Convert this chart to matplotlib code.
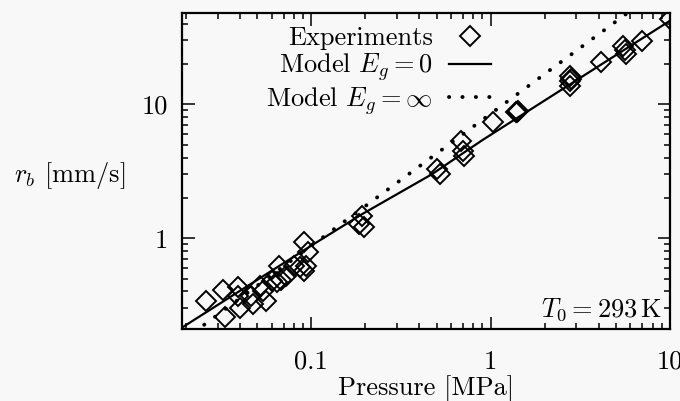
import matplotlib
matplotlib.use('Agg')
import matplotlib.pyplot as plt
from matplotlib.ticker import FixedLocator, FixedFormatter, LogLocator, NullFormatter

plt.rcParams['font.family'] = 'serif'
plt.rcParams['font.serif'] = ['cmr10', 'DejaVu Serif']
plt.rcParams['mathtext.fontset'] = 'cm'
plt.rcParams['axes.unicode_minus'] = False

# experimental burning rates, pressure [MPa] vs r_b [mm/s]
p_exp = [0.026, 0.032, 0.033, 0.039, 0.039, 0.040, 0.046, 0.047, 0.052, 0.054,
         0.056, 0.060, 0.066, 0.064, 0.068, 0.072, 0.080, 0.086, 0.091, 0.091,
         0.096, 0.094, 0.184, 0.191, 0.198, 0.50, 0.52, 0.68, 0.70, 0.71,
         1.03, 1.38, 1.42, 1.40, 2.78, 2.78, 2.78, 2.80, 4.15, 5.5,
         5.7, 5.6, 7.0, 10.0]
r_exp = [0.34, 0.41, 0.26, 0.43, 0.37, 0.30, 0.37, 0.32, 0.44, 0.40,
         0.34, 0.48, 0.62, 0.47, 0.49, 0.52, 0.62, 0.61, 0.57, 0.93,
         0.79, 0.62, 1.27, 1.46, 1.21, 3.27, 3.0, 5.3, 4.46, 4.09,
         7.34, 8.7, 8.9, 8.8, 14.9, 16.2, 13.6, 15.5, 20.6, 27.1,
         23.6, 25.5, 29.5, 43.0]

# model E_g = 0
p_model0 = [0.019, 0.036, 0.10, 0.19, 0.47, 0.9, 10.0]
r_model0 = [0.215, 0.37, 0.88, 1.5, 3.0, 5.4, 42.0]

# model E_g = infinity
p_modelinf = [0.022, 5.8]
r_modelinf = [0.197, 48.0]

x_ticks = [0.1, 1, 10]
x_labels = ['0.1', '1', '10']
y_ticks = [1, 10]
y_labels = ['1', '10']

bg = '#f8f8f8'
fs = 19

fig = plt.figure(figsize=(6.8, 4.01), dpi=100, facecolor=bg)
ax = fig.add_axes([0.2676, 0.1796, 0.7176, 0.788], facecolor=bg)

ax.plot(p_exp, r_exp, linestyle='none', marker='D', markersize=10,
        markerfacecolor='none', markeredgecolor='black', markeredgewidth=1.4,
        label='Experiments')
ax.plot(p_model0, r_model0, color='black', lw=1.6, label=r'Model $E_g = 0$')
ax.plot(p_modelinf, r_modelinf, color='black', lw=2.8,
        linestyle=(0, (0.05, 3.4)), dash_capstyle='round',
        label=r'Model $E_g = \infty$')

ax.set_xscale('log')
ax.set_yscale('log')
ax.set_xlim(0.019, 10)
ax.set_ylim(0.21, 48)

ax.xaxis.set_major_locator(FixedLocator(x_ticks))
ax.xaxis.set_major_formatter(FixedFormatter(x_labels))
ax.yaxis.set_major_locator(FixedLocator(y_ticks))
ax.yaxis.set_major_formatter(FixedFormatter(y_labels))
ax.xaxis.set_minor_locator(LogLocator(base=10, subs=range(2, 10), numticks=20))
ax.yaxis.set_minor_locator(LogLocator(base=10, subs=range(2, 10), numticks=20))
ax.xaxis.set_minor_formatter(NullFormatter())
ax.yaxis.set_minor_formatter(NullFormatter())

ax.tick_params(which='both', direction='in', top=True, right=True,
               labelsize=fs, width=1.1)
ax.tick_params(which='major', length=9)
ax.tick_params(which='minor', length=4)
ax.tick_params(axis='x', which='major', pad=15)
ax.tick_params(axis='y', which='major', pad=10)
for s in ax.spines.values():
    s.set_linewidth(1.6)

ax.set_xlabel('Pressure [MPa]', fontsize=fs, va='center')
ax.xaxis.set_label_coords(0.5, -0.19)
ax.set_ylabel(r'$r_b$ [mm/s]', fontsize=fs, rotation=0, ha='center', va='center')
ax.yaxis.set_label_coords(-0.2295, 0.487)

ax.text(0.984, 0.06, r'$T_0 = 293\,$K', transform=ax.transAxes,
        fontsize=fs, ha='right', va='center')

ax.legend(loc='upper right', bbox_to_anchor=(0.633, 0.958), frameon=False,
          markerfirst=False, fontsize=fs, borderpad=0, borderaxespad=0,
          handlelength=1.6, handletextpad=0.6, labelspacing=0.05)

fig.savefig('out.png', dpi=100, facecolor=bg)
